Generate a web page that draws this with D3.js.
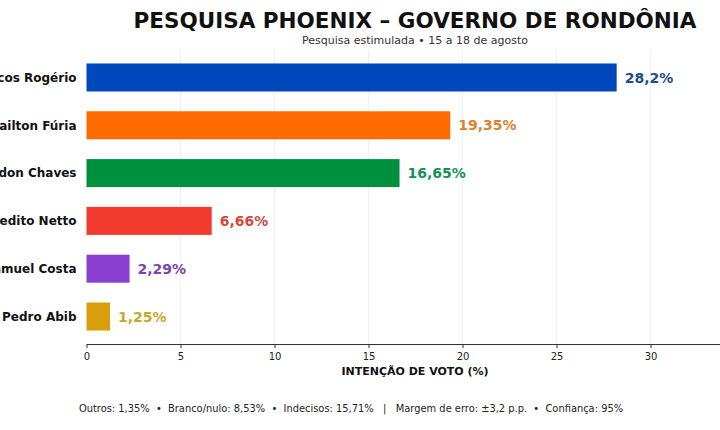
<!DOCTYPE html>
<html>
<head>
<meta charset="utf-8">
<script src="https://cdn.jsdelivr.net/npm/d3@7"></script>
<style>
  body { margin: 0; background: #fff; }
  svg { display: block; font-family: 'DejaVu Sans', sans-serif; }
</style>
</head>
<body>
<div id="chart"></div>
<script>
// Data
const candidates = [ 'Marcos Rogério', 'Adailton Fúria', 'Hildon Chaves', 'Benedito Netto', 'Samuel Costa', 'Pedro Abib' ];
const votes = [ 28.2, 19.35, 16.65, 6.66, 2.29, 1.25 ];
const voteLabels = [ '28,2%', '19,35%', '16,65%', '6,66%', '2,29%', '1,25%' ];
const xTicks = [ 0, 5, 10, 15, 20, 25, 30 ];

const bar_colors = [ '#0047bb', '#ff6b00', '#00913f', '#f23a2f', '#8b3fd0', '#d99e0b' ];
const label_colors = [ '#1f4b8e', '#e07f2e', '#12925a', '#d5463d', '#7c43b5', '#c9a825' ];

const figure_width = 720, figure_height = 430;
const plot = { left: 86.5, right: 722.7, top: 50, bottom: 344 };

const svg = d3.select( 'div#chart' )
  .append( 'svg' )
    .attr( 'width', figure_width )
    .attr( 'height', figure_height );

const x = d3.scaleLinear()
  .domain( [ 0, d3.max( votes ) * 1.2 ] )
  .range( [ plot.left, plot.right ] );

const y = d3.scaleBand()
  .domain( candidates )
  .range( [ plot.top, plot.bottom ] )
  .paddingInner( 0.414 )
  .paddingOuter( 0.282 );

// light vertical grid
svg.append( 'g' )
  .selectAll( 'line' )
  .data( xTicks.slice( 1 ) )
  .enter()
  .append( 'line' )
    .attr( 'x1', d => x( d ) )
    .attr( 'x2', d => x( d ) )
    .attr( 'y1', plot.top )
    .attr( 'y2', plot.bottom )
    .attr( 'stroke', '#ececec' )
    .attr( 'stroke-width', 0.8 );

// bars
svg.append( 'g' )
  .selectAll( 'rect' )
  .data( candidates )
  .enter()
  .append( 'rect' )
    .attr( 'x', x( 0 ) )
    .attr( 'y', d => y( d ) )
    .attr( 'width', ( d, i ) => x( votes[ i ] ) - x( 0 ) )
    .attr( 'height', y.bandwidth() )
    .attr( 'fill', ( d, i ) => bar_colors[ i ] );

// value labels
svg.append( 'g' )
  .selectAll( 'text' )
  .data( candidates )
  .enter()
  .append( 'text' )
    .attr( 'x', ( d, i ) => x( votes[ i ] ) + 8 )
    .attr( 'y', d => y( d ) + y.bandwidth() / 2 )
    .attr( 'dy', '0.36em' )
    .attr( 'fill', ( d, i ) => label_colors[ i ] )
    .style( 'font-size', '14px' )
    .style( 'font-weight', 'bold' )
    .text( ( d, i ) => voteLabels[ i ] );

// candidate names (the reference is cropped on the left, so these run off the edge)
svg.append( 'g' )
  .selectAll( 'text' )
  .data( candidates )
  .enter()
  .append( 'text' )
    .attr( 'x', plot.left - 10 )
    .attr( 'y', d => y( d ) + y.bandwidth() / 2 )
    .attr( 'dy', '0.36em' )
    .attr( 'text-anchor', 'end' )
    .attr( 'fill', '#111' )
    .style( 'font-size', '12px' )
    .style( 'font-weight', 'bold' )
    .text( d => d );

// x axis
const xAxis = svg.append( 'g' )
  .attr( 'transform', 'translate(0,' + plot.bottom + ')' )
  .call( d3.axisBottom( x ).tickValues( xTicks ).tickSize( 4 ).tickPadding( 5 ).tickSizeOuter( 0 ) );
xAxis.select( '.domain' ).attr( 'stroke', '#333' ).attr( 'stroke-width', 1 );
xAxis.selectAll( '.tick line' ).attr( 'stroke', '#333' );
xAxis.selectAll( 'text' )
  .attr( 'fill', '#222' )
  .style( 'font-size', '10px' )
  .style( 'font-family', 'DejaVu Sans' );

svg.append( 'text' )
  .attr( 'x', 415 )
  .attr( 'y', 375 )
  .attr( 'text-anchor', 'middle' )
  .attr( 'fill', '#111' )
  .style( 'font-size', '11px' )
  .style( 'font-weight', 'bold' )
  .text( 'INTENÇÃO DE VOTO (%)' );

// titles
svg.append( 'text' )
  .attr( 'x', 415 )
  .attr( 'y', 28 )
  .attr( 'text-anchor', 'middle' )
  .attr( 'fill', '#111' )
  .style( 'font-size', '21.5px' )
  .style( 'font-weight', 'bold' )
  .text( 'PESQUISA PHOENIX – GOVERNO DE RONDÔNIA' );

svg.append( 'text' )
  .attr( 'x', 415 )
  .attr( 'y', 44 )
  .attr( 'text-anchor', 'middle' )
  .attr( 'fill', '#333' )
  .style( 'font-size', '11px' )
  .text( 'Pesquisa estimulada • 15 a 18 de agosto' );

// footer
svg.append( 'text' )
  .attr( 'x', 351 )
  .attr( 'y', 412 )
  .attr( 'text-anchor', 'middle' )
  .attr( 'fill', '#222' )
  .style( 'font-size', '9.9px' )
  .style( 'white-space', 'pre' )
  .text( 'Outros: 1,35%  •  Branco/nulo: 8,53%  •  Indecisos: 15,71%   |   Margem de erro: ±3,2 p.p.  •  Confiança: 95%' );
</script>
</body>
</html>
